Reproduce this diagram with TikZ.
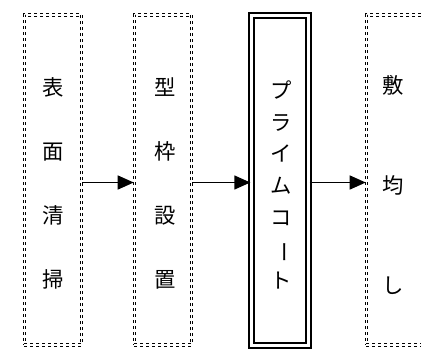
\documentclass[tikz,border=0pt]{standalone}
\usepackage{fontspec}
\newfontfamily\jpfont{Noto Sans CJK JP}
\usetikzlibrary{arrows.meta, positioning}
\tikzset{
  stepbox/.style={rectangle, draw=black, double, double distance=0.8pt,
                  line width=0.9pt, dash pattern=on 2.25pt off 2.25pt,
                  minimum width=43pt, minimum height=247.5pt, inner sep=0pt},
  mainbox/.style={rectangle, draw=black, double, double distance=2.25pt,
                  line width=1.5pt, minimum width=43pt, minimum height=247.5pt,
                  inner sep=0pt},
  lbl/.style={font=\jpfont\fontsize{16pt}{19pt}\selectfont, align=center},
  e/.style={line width=1pt, -{Triangle[length=12pt, width=10.5pt]}},
}

\begin{document}
\begin{tikzpicture}[x=0.75pt, y=-0.75pt]
  \useasboundingbox (0,0) rectangle (421,350);
  \node[stepbox] (s1) at (53,180) {};
  \node[stepbox] (s2) at (163,180) {};
  \node[mainbox] (s3) at (280,180.5) {};
  \node[stepbox] (s4) at (395,180) {};
  % labels written top to bottom
  \node[lbl] (t1) at (53,183) {表\\[29pt]面\\[29pt]清\\[29pt]掃};
  \node[lbl] (t2) at (165,183) {型\\[29pt]枠\\[29pt]設\\[29pt]置};
  \node[lbl] (t3) at (281,185) {プ\\[4.8pt]ラ\\[4.8pt]イ\\[4.8pt]ム\\[4.8pt]コ\\[4.8pt]\rotatebox[origin=c]{-90}{ー}\\[4.8pt]ト};
  \node[lbl] (t4) at (393,185) {敷\\[56pt]均\\[56pt]し};
  \draw[e] (s1.east |- 0,182.5) -- (s2.west |- 0,182.5);
  \draw[e] (s2.east |- 0,182.5) -- (s3.west |- 0,182.5);
  \draw[e] (s3.east |- 0,182.5) -- (s4.west |- 0,182.5);
\end{tikzpicture}
\end{document}
